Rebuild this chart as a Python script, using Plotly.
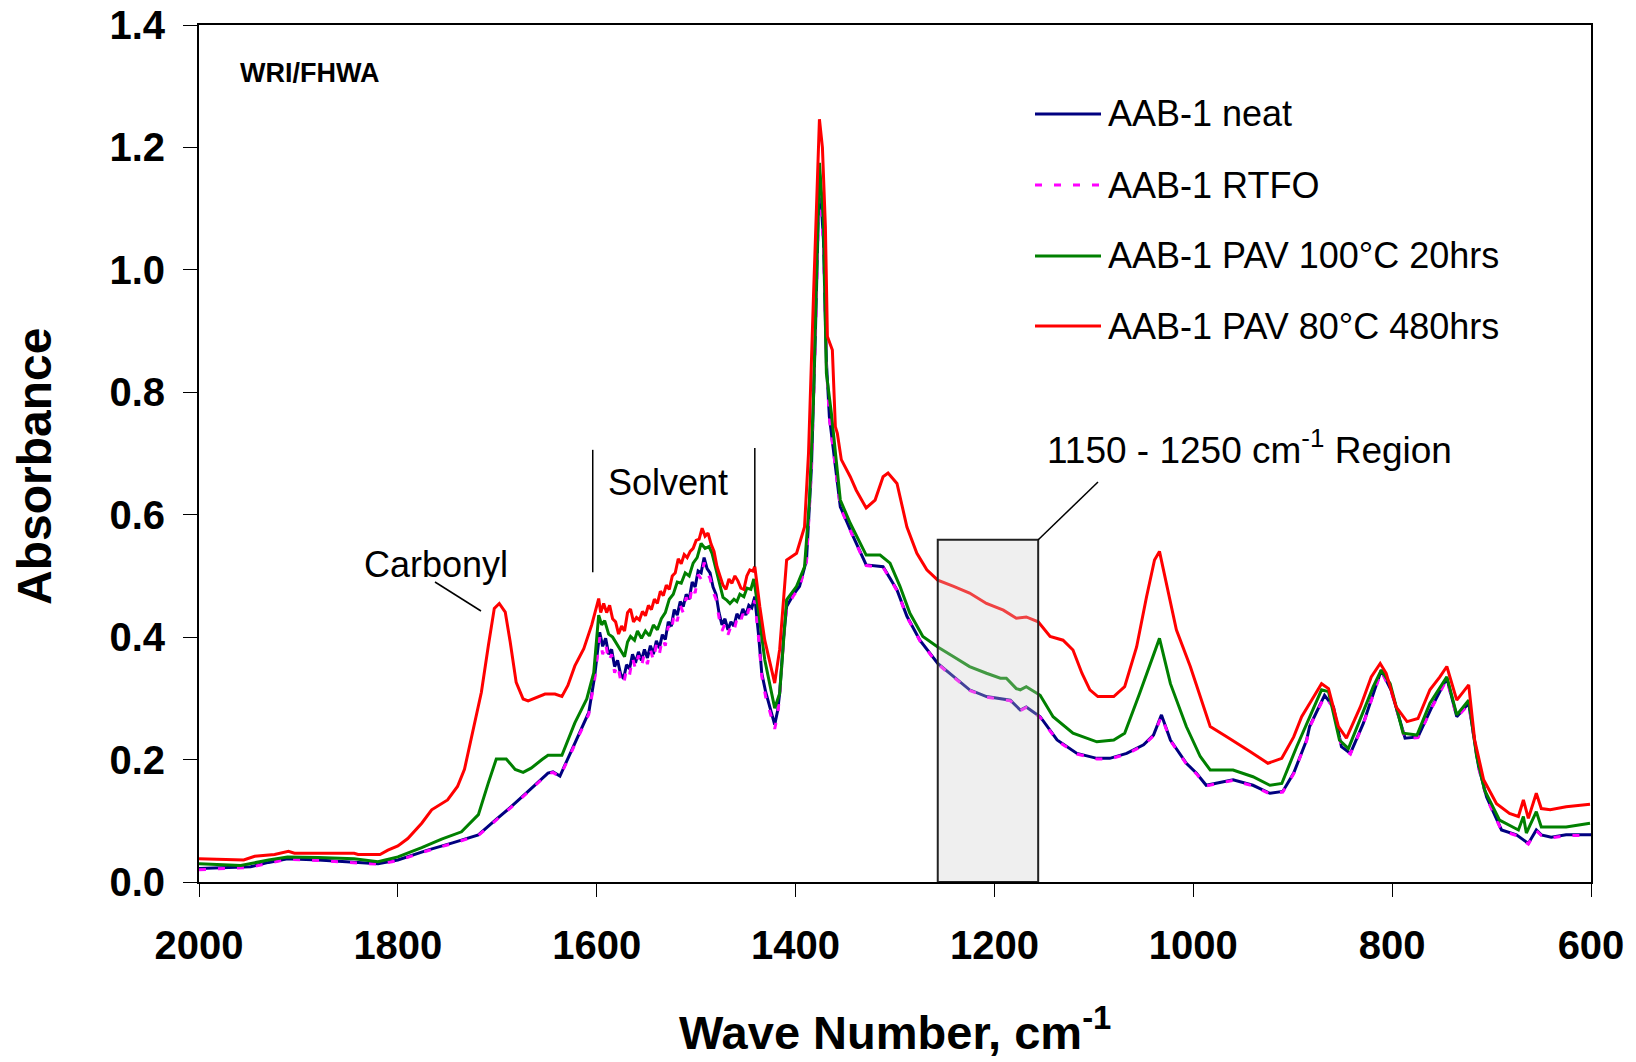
import plotly.graph_objects as go

# ---------------- data ----------------
neat_wn = [2000, 1980, 1948, 1930, 1911, 1880, 1844, 1820, 1800, 1785, 1770, 1745, 1719, 1702, 1686,
           1669, 1649, 1644, 1637, 1625, 1608, 1602,
           1600, 1597, 1594, 1591, 1588, 1585, 1582, 1579, 1576, 1573, 1570, 1567, 1564, 1561, 1558,
           1555, 1552, 1549, 1546, 1543, 1540, 1537, 1534, 1531, 1528, 1525, 1522, 1519, 1516, 1513,
           1510, 1507, 1504, 1501, 1498, 1495, 1492, 1489, 1486, 1483, 1480, 1477, 1474, 1471, 1468,
           1465, 1462, 1459, 1456, 1453, 1450, 1447, 1444, 1441,
           1437, 1434, 1430, 1426, 1421, 1418, 1416, 1412, 1409, 1402, 1396, 1389, 1384, 1380, 1376,
           1372, 1369, 1366, 1362, 1355, 1342, 1329, 1312, 1298, 1288, 1275, 1257, 1241, 1225, 1208,
           1194, 1184, 1174, 1168, 1154, 1137, 1117, 1097, 1084, 1067, 1050, 1040, 1032, 1023, 1007,
           997, 987, 960, 940, 923, 910, 899, 886, 883, 868, 859, 851, 842, 829, 817, 811, 801, 787,
           774, 760, 745, 735, 723, 713, 705, 690, 675, 663, 655, 650, 640, 625, 600]
neat_abs = [0.022, 0.023, 0.025, 0.032, 0.038, 0.036, 0.033, 0.030, 0.036, 0.044, 0.052, 0.064, 0.077, 0.101, 0.123,
            0.148, 0.178, 0.180, 0.173, 0.216, 0.277, 0.337,
            0.370, 0.408, 0.385, 0.398, 0.372, 0.380, 0.352, 0.362, 0.340, 0.332, 0.355, 0.348, 0.372, 0.358, 0.376,
            0.362, 0.380, 0.366, 0.386, 0.372, 0.394, 0.382, 0.404, 0.396, 0.425, 0.418, 0.445, 0.436, 0.458, 0.450,
            0.470, 0.462, 0.490, 0.482, 0.508, 0.505, 0.530, 0.512, 0.505, 0.482, 0.470, 0.440, 0.420, 0.430, 0.412,
            0.425, 0.418, 0.438, 0.430, 0.446, 0.436, 0.452, 0.448, 0.466,
            0.400, 0.341, 0.310, 0.286, 0.257, 0.280, 0.308, 0.400, 0.450, 0.470, 0.483, 0.526, 0.679, 0.900, 1.160,
            1.050, 0.850, 0.760, 0.706, 0.613, 0.564, 0.518, 0.515, 0.477, 0.434, 0.395, 0.357, 0.335, 0.314, 0.303,
            0.300, 0.297, 0.281, 0.286, 0.270, 0.232, 0.210, 0.202, 0.202, 0.210, 0.224, 0.240, 0.273, 0.232, 0.194,
            0.178, 0.158, 0.167, 0.158, 0.145, 0.148, 0.178, 0.232, 0.254, 0.305, 0.286, 0.221, 0.210, 0.259, 0.319, 0.346, 0.313, 0.235,
            0.237, 0.286, 0.333, 0.270, 0.292, 0.188, 0.139, 0.085, 0.077, 0.063, 0.085, 0.077, 0.073, 0.077, 0.077]

rtfo_wn = neat_wn
rtfo_abs = [0.020, 0.022, 0.024, 0.031, 0.037, 0.035, 0.032, 0.029, 0.035, 0.043, 0.051, 0.063, 0.076, 0.100, 0.122,
            0.147, 0.177, 0.179, 0.172, 0.214, 0.274, 0.332,
            0.362, 0.400, 0.372, 0.390, 0.360, 0.372, 0.342, 0.355, 0.330, 0.322, 0.348, 0.338, 0.366, 0.348, 0.370,
            0.352, 0.374, 0.356, 0.380, 0.362, 0.388, 0.372, 0.398, 0.386, 0.418, 0.408, 0.440, 0.426, 0.452, 0.440,
            0.465, 0.452, 0.484, 0.472, 0.502, 0.495, 0.522, 0.505, 0.496, 0.474, 0.462, 0.432, 0.410, 0.422, 0.404,
            0.418, 0.410, 0.430, 0.422, 0.438, 0.428, 0.446, 0.440, 0.460,
            0.395, 0.336, 0.302, 0.278, 0.250, 0.274, 0.304, 0.396, 0.447, 0.468, 0.481, 0.523, 0.672, 0.890, 1.150,
            1.040, 0.845, 0.757, 0.704, 0.612, 0.563, 0.517, 0.514, 0.476, 0.433, 0.394, 0.356, 0.334, 0.313, 0.302,
            0.299, 0.296, 0.280, 0.285, 0.269, 0.231, 0.209, 0.201, 0.201, 0.209, 0.223, 0.239, 0.271, 0.231, 0.193,
            0.177, 0.157, 0.166, 0.157, 0.144, 0.147, 0.177, 0.231, 0.253, 0.303, 0.285, 0.220, 0.209, 0.258, 0.317, 0.344, 0.312, 0.234,
            0.236, 0.285, 0.331, 0.269, 0.290, 0.186, 0.137, 0.084, 0.076, 0.062, 0.084, 0.076, 0.072, 0.076, 0.076]

pav100_wn = [2000, 1958, 1930, 1911, 1880, 1844, 1820, 1800, 1776, 1756, 1736, 1719, 1709, 1701, 1691,
             1682, 1674, 1666, 1655, 1649, 1635, 1622, 1610, 1603,
             1598, 1595, 1592, 1588, 1584, 1580, 1576, 1572, 1569, 1566, 1562, 1559, 1555, 1551, 1547,
             1543, 1539, 1535, 1531, 1527, 1523, 1519, 1515, 1511, 1507, 1503, 1499, 1495, 1491, 1487,
             1484, 1480, 1476, 1473, 1469, 1466, 1462, 1459, 1456, 1452, 1449, 1445, 1442,
             1437, 1431, 1421, 1416, 1409, 1399, 1391, 1386, 1382, 1378, 1376, 1372, 1369, 1364, 1362,
             1355, 1345, 1329, 1315, 1305, 1295, 1285, 1272, 1257, 1241, 1225, 1208, 1194, 1188, 1178,
             1174, 1168, 1154, 1141, 1121, 1097, 1080, 1069, 1054, 1042, 1034, 1023, 1007, 993, 983,
             960, 940, 923, 911, 896, 884, 871, 864, 853, 844, 831, 819, 811, 802, 789, 775, 762, 745,
             735, 723, 715, 707, 692, 673, 668, 665, 655, 650, 625, 601]
pav100_abs = [0.030, 0.027, 0.036, 0.041, 0.040, 0.038, 0.033, 0.041, 0.056, 0.070, 0.082, 0.110, 0.162, 0.201, 0.201,
              0.184, 0.179, 0.186, 0.200, 0.207, 0.207, 0.260, 0.299, 0.342,
              0.436, 0.420, 0.427, 0.405, 0.400, 0.390, 0.380, 0.368, 0.392, 0.401, 0.395, 0.410, 0.398, 0.410, 0.402,
              0.420, 0.412, 0.430, 0.440, 0.462, 0.470, 0.490, 0.488, 0.505, 0.500, 0.521, 0.530, 0.553, 0.545, 0.548,
              0.537, 0.510, 0.480, 0.465, 0.460, 0.455, 0.462, 0.458, 0.470, 0.466, 0.480, 0.478, 0.495,
              0.439, 0.363, 0.284, 0.308, 0.461, 0.483, 0.515, 0.624, 0.787, 1.050, 1.175, 1.080, 0.831, 0.766, 0.733,
              0.624, 0.586, 0.534, 0.534, 0.521, 0.483, 0.439, 0.401, 0.384, 0.368, 0.352, 0.341, 0.333, 0.333, 0.316,
              0.314, 0.319, 0.305, 0.270, 0.243, 0.229, 0.232, 0.243, 0.308, 0.363, 0.398, 0.324, 0.254, 0.205, 0.183,
              0.183, 0.172, 0.158, 0.161, 0.221, 0.265, 0.314, 0.311, 0.232, 0.218, 0.270, 0.319, 0.346, 0.324, 0.243, 0.240, 0.292, 0.335,
              0.273, 0.297, 0.205, 0.150, 0.101, 0.085, 0.107, 0.080, 0.115, 0.090, 0.090, 0.096]

pav80_wn = [2000, 1955, 1944, 1924, 1910, 1904, 1844, 1840, 1818, 1810, 1800, 1790, 1776, 1766, 1750,
            1740, 1733, 1723, 1716, 1709, 1703, 1698, 1692, 1687, 1681, 1674, 1669, 1652, 1642, 1635,
            1629, 1622, 1613, 1605,
            1598, 1596, 1593, 1590, 1587, 1584, 1581, 1578, 1575, 1572, 1569, 1566, 1563, 1560, 1557,
            1554, 1551, 1548, 1545, 1542, 1539, 1536, 1533, 1530, 1527, 1524, 1521, 1518, 1515, 1512,
            1509, 1506, 1503, 1500, 1497, 1494, 1491, 1488, 1485, 1482, 1479, 1476, 1473, 1470, 1467,
            1464, 1461, 1458, 1455, 1452, 1449, 1446, 1443, 1441,
            1436, 1431, 1421, 1416, 1412, 1409, 1399, 1391, 1387, 1385, 1382, 1379, 1376, 1373, 1370,
            1368, 1363, 1360, 1358, 1354, 1345, 1339, 1329, 1320, 1312, 1307, 1298, 1288, 1278, 1268,
            1257, 1241, 1225, 1208, 1191, 1178, 1168, 1156, 1144, 1131, 1121, 1112, 1104, 1096, 1080,
            1069, 1057, 1047, 1039, 1034, 1027, 1017, 1003, 993, 983, 966, 953, 943, 925, 911, 899,
            891, 881, 871, 864, 854, 846, 832, 821, 812, 806, 796, 785, 774, 762, 752, 745, 735, 723,
            717, 708, 695, 682, 673, 668, 663, 655, 650, 641, 625, 601]
pav80_abs = [0.038, 0.036, 0.042, 0.045, 0.050, 0.047, 0.047, 0.045, 0.045, 0.052, 0.059, 0.071, 0.096, 0.118, 0.134,
             0.156, 0.184, 0.255, 0.310, 0.386, 0.447, 0.455, 0.441, 0.392, 0.326, 0.299, 0.296, 0.307, 0.307, 0.303,
             0.321, 0.353, 0.381, 0.420,
             0.463, 0.440, 0.455, 0.440, 0.452, 0.430, 0.425, 0.405, 0.418, 0.410, 0.440, 0.446, 0.425, 0.432, 0.428,
             0.442, 0.435, 0.452, 0.445, 0.462, 0.455, 0.475, 0.468, 0.485, 0.478, 0.500, 0.505, 0.528, 0.520, 0.535,
             0.530, 0.540, 0.545, 0.558, 0.560, 0.578, 0.565, 0.570, 0.552, 0.540, 0.515, 0.500, 0.485, 0.478, 0.495,
             0.488, 0.500, 0.492, 0.480, 0.478, 0.500, 0.510, 0.508, 0.515,
             0.450, 0.395, 0.325, 0.380, 0.461, 0.526, 0.537, 0.580, 0.700, 0.820, 0.956, 1.100, 1.246, 1.200, 1.070,
             0.891, 0.869, 0.744, 0.733, 0.690, 0.662, 0.640, 0.611, 0.624, 0.662, 0.668, 0.651, 0.580, 0.537, 0.510,
             0.493, 0.483, 0.472, 0.455, 0.444, 0.431, 0.433, 0.425, 0.401, 0.395, 0.379, 0.341, 0.314, 0.303, 0.303,
             0.319, 0.384, 0.466, 0.526, 0.540, 0.488, 0.412, 0.352, 0.303, 0.254, 0.237, 0.224, 0.213, 0.194, 0.202, 0.237,
             0.270, 0.297, 0.324, 0.316, 0.254, 0.235, 0.286, 0.335, 0.357, 0.341, 0.286, 0.262, 0.267, 0.314, 0.335, 0.352, 0.297, 0.322,
             0.232, 0.167, 0.128, 0.112, 0.107, 0.134, 0.104, 0.145, 0.120, 0.118, 0.123, 0.127]

series_names = ["AAB-1 neat", "AAB-1 RTFO", "AAB-1 PAV 100°C 20hrs", "AAB-1 PAV 80°C 480hrs"]
x_ticks = [2000, 1800, 1600, 1400, 1200, 1000, 800, 600]
y_ticks = [0.0, 0.2, 0.4, 0.6, 0.8, 1.0, 1.2, 1.4]

# ---------------- figure ----------------
FONT = "Liberation Sans, Arial, sans-serif"
W, H = 1636, 1062
L, R, T, B = 199, 45, 25, 180
PW, PH = W - L - R, H - T - B


def px(xp):
    return (xp - L) / PW


def py(yp):
    return (H - B - yp) / PH


fig = go.Figure()
styles = [
    dict(color="#000080", width=3),
    dict(color="#FF00FF", width=3, dash="7px,12px"),
    dict(color="#008000", width=3),
    dict(color="#FF0000", width=3),
]
for name, xs, ys, st in zip(series_names,
                            [neat_wn, rtfo_wn, pav100_wn, pav80_wn],
                            [neat_abs, rtfo_abs, pav100_abs, pav80_abs],
                            styles):
    fig.add_trace(go.Scatter(x=xs, y=ys, mode="lines", name=name, line=st, showlegend=False))

fig.update_layout(
    width=W, height=H,
    margin=dict(l=L, r=R, t=T, b=B, pad=0),
    paper_bgcolor="white", plot_bgcolor="white",
    font=dict(family=FONT, color="black"),
    xaxis=dict(
        range=[2000, 600], tickvals=x_ticks, ticktext=[str(v) for v in x_ticks],
        ticks="outside", ticklen=13, tickwidth=1, tickcolor="black",
        showline=True, linecolor="black", linewidth=2, mirror=True,
        showgrid=False, zeroline=False, automargin=False,
        tickfont=dict(family=FONT, size=40, color="black", weight="bold"),
        ticklabelstandoff=14,
    ),
    yaxis=dict(
        range=[0, 1.4], tickvals=y_ticks, ticktext=[f"{v:.1f}" for v in y_ticks],
        ticks="outside", ticklen=14, tickwidth=1, tickcolor="black",
        showline=True, linecolor="black", linewidth=2, mirror=True,
        showgrid=False, zeroline=False, automargin=False,
        tickfont=dict(family=FONT, size=40, color="black", weight="bold"),
        ticklabelstandoff=10,
    ),
    yaxis2=dict(
        overlaying="y", side="left", range=[0, 1.4], tickvals=y_ticks, automargin=False,
        ticks="inside", ticklen=14, tickwidth=1, tickcolor="black",
        showticklabels=False, showline=False, showgrid=False, zeroline=False,
    ),
)

# axis titles
fig.add_annotation(xref="paper", yref="paper", x=px(895), y=py(1029),
                   text="<b>Wave Number, cm<sup>-1</sup></b>", showarrow=False,
                   xanchor="center", yanchor="middle", font=dict(family=FONT, size=47, color="black"))
fig.add_annotation(xref="paper", yref="paper", x=px(34), y=py(467), text="<b>Absorbance</b>",
                   textangle=-90, showarrow=False, xanchor="center", yanchor="middle",
                   font=dict(family=FONT, size=48, color="black"))

# region box (semi transparent, drawn above the curves)
fig.add_shape(type="rect", xref="x", yref="y", x0=1257, x1=1156, y0=0, y1=0.559,
              fillcolor="rgba(205,205,205,0.32)", line=dict(color="#222222", width=2), layer="above")

# leader lines
line_style = dict(color="black", width=1.5)
fig.add_shape(type="line", xref="x", yref="y", x0=1604, x1=1604, y0=0.506, y1=0.706, line=line_style)
fig.add_shape(type="line", xref="x", yref="y", x0=1441, x1=1441, y0=0.515, y1=0.709, line=line_style)
fig.add_shape(type="line", xref="paper", yref="paper", x0=px(435), x1=px(481), y0=py(582), y1=py(611),
              line=line_style)
fig.add_shape(type="line", xref="paper", yref="paper", x0=px(1038), x1=px(1098), y0=py(540), y1=py(482),
              line=line_style)

ann_font = dict(family=FONT, size=36, color="black")
fig.add_annotation(xref="paper", yref="paper", x=px(436), y=py(564), text="Carbonyl",
                   showarrow=False, xanchor="center", yanchor="middle", font=ann_font)
fig.add_annotation(xref="paper", yref="paper", x=px(606), y=py(482), text="Solvent",
                   showarrow=False, xanchor="left", yanchor="middle", font=ann_font)
fig.add_annotation(xref="paper", yref="paper", x=px(1045), y=py(447),
                   text="1150 - 1250 cm<sup>-1</sup> Region",
                   showarrow=False, xanchor="left", yanchor="middle",
                   font=dict(family=FONT, size=37, color="black"))
fig.add_annotation(xref="paper", yref="paper", x=px(238), y=py(73), text="<b>WRI/FHWA</b>",
                   showarrow=False, xanchor="left", yanchor="middle",
                   font=dict(family=FONT, size=27, color="black"))

# legend (line samples + labels)
legend_rows = [114, 185, 256, 326]
for name, st, yrow in zip(series_names, styles, legend_rows):
    fig.add_shape(type="line", xref="paper", yref="paper", x0=px(1035), x1=px(1101),
                  y0=py(yrow), y1=py(yrow), line=st)
    fig.add_annotation(xref="paper", yref="paper", x=px(1106), y=py(yrow), text=name,
                       showarrow=False, xanchor="left", yanchor="middle", font=ann_font)

fig.write_html("out.html")
